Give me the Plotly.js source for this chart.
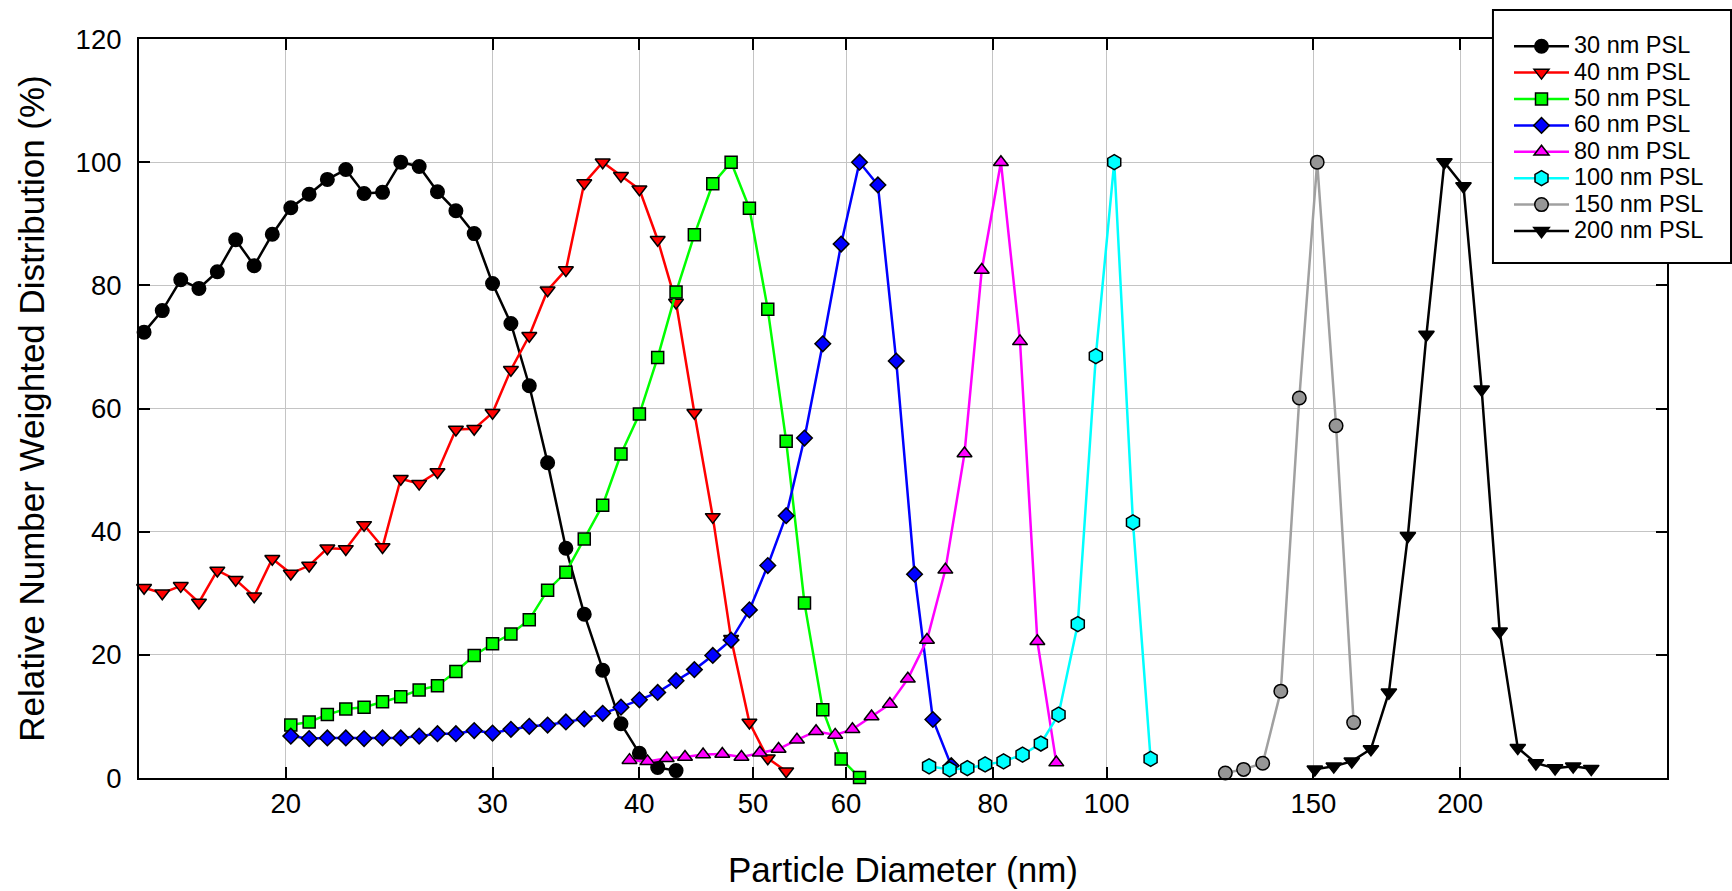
<!DOCTYPE html>
<html>
<head>
<meta charset="utf-8">
<script src="https://cdn.plot.ly/plotly-3.0.1.min.js"></script>
<style>
  html, body { margin: 0; padding: 0; background: #ffffff; }
  #chart { width: 1732px; height: 891px; }
</style>
</head>
<body>
<div id="chart"></div>
<script>
// ---- Data ----
var seriesNames = ["30 nm PSL", "40 nm PSL", "50 nm PSL", "60 nm PSL", "80 nm PSL", "100 nm PSL", "150 nm PSL", "200 nm PSL"];

var x30 = [15.15, 15.70, 16.28, 16.87, 17.49, 18.13, 18.80, 19.48, 20.20, 20.94, 21.70, 22.50, 23.32, 24.18, 25.06, 25.98, 26.93, 27.92, 28.94, 30.00, 31.10, 32.24, 33.42, 34.64, 35.91, 37.23, 38.59, 40.01, 41.47, 42.99];
var y30 = [72.4, 75.9, 80.9, 79.5, 82.2, 87.4, 83.2, 88.3, 92.6, 94.8, 97.2, 98.8, 94.9, 95.1, 100.0, 99.3, 95.2, 92.1, 88.4, 80.3, 73.8, 63.7, 51.2, 37.3, 26.6, 17.5, 8.8, 4.0, 1.7, 1.2];

var x40 = [15.15, 15.70, 16.28, 16.87, 17.49, 18.13, 18.80, 19.48, 20.20, 20.94, 21.70, 22.50, 23.32, 24.18, 25.06, 25.98, 26.93, 27.92, 28.94, 30.00, 31.10, 32.24, 33.42, 34.64, 35.91, 37.23, 38.59, 40.01, 41.47, 42.99, 44.56, 46.20, 47.89, 49.64, 51.46, 53.35];
var y40 = [30.9, 30.0, 31.2, 28.5, 33.7, 32.2, 29.5, 35.6, 33.2, 34.5, 37.3, 37.2, 41.1, 37.5, 48.6, 47.8, 49.7, 56.6, 56.7, 59.3, 66.3, 71.8, 79.2, 82.5, 96.6, 100.0, 97.8, 95.6, 87.4, 77.2, 59.3, 42.4, 22.6, 9.0, 3.2, 1.1];

var x50 = [20.20, 20.94, 21.70, 22.50, 23.32, 24.18, 25.06, 25.98, 26.93, 27.92, 28.94, 30.00, 31.10, 32.24, 33.42, 34.64, 35.91, 37.23, 38.59, 40.01, 41.47, 42.99, 44.56, 46.20, 47.89, 49.64, 51.46, 53.35, 55.30, 57.32, 59.42, 61.60];
var y50 = [8.6, 9.1, 10.3, 11.2, 11.5, 12.4, 13.2, 14.3, 15.0, 17.3, 19.9, 21.8, 23.4, 25.7, 30.5, 33.4, 38.8, 44.3, 52.6, 59.1, 68.3, 78.9, 88.2, 96.5, 100.0, 92.5, 76.1, 54.7, 28.4, 11.1, 3.1, 0.1];

var x60 = [20.20, 20.94, 21.70, 22.50, 23.32, 24.18, 25.06, 25.98, 26.93, 27.92, 28.94, 30.00, 31.10, 32.24, 33.42, 34.64, 35.91, 37.23, 38.59, 40.01, 41.47, 42.99, 44.56, 46.20, 47.89, 49.64, 51.46, 53.35, 55.30, 57.32, 59.42, 61.60, 63.86, 66.20, 68.62, 71.13, 73.74];
var y60 = [6.8, 6.4, 6.5, 6.5, 6.4, 6.5, 6.5, 6.8, 7.2, 7.2, 7.7, 7.3, 7.9, 8.4, 8.6, 9.1, 9.6, 10.5, 11.5, 12.7, 13.9, 15.8, 17.6, 19.9, 22.4, 27.3, 34.5, 42.6, 55.2, 70.5, 86.7, 100.0, 96.3, 67.7, 33.1, 9.5, 2.0];

var x80 = [39.24, 40.65, 42.21, 43.75, 45.33, 47.07, 48.87, 50.66, 52.56, 54.49, 56.57, 58.73, 60.75, 63.07, 65.38, 67.72, 70.31, 72.89, 75.68, 78.28, 81.28, 84.38, 87.30, 90.60];
var y80 = [2.9, 2.7, 3.2, 3.4, 3.8, 3.9, 3.4, 4.1, 4.7, 6.2, 7.6, 7.0, 7.9, 10.0, 12.0, 16.1, 22.4, 33.8, 52.7, 82.5, 100.0, 70.9, 22.2, 2.5];

var x100 = [70.6, 73.5, 76.1, 78.8, 81.7, 84.8, 87.9, 91.0, 94.5, 97.9, 101.5, 105.3, 109.0];
var y100 = [1.9, 1.4, 1.6, 2.2, 2.7, 3.8, 5.6, 10.3, 25.0, 68.5, 100.0, 41.5, 3.1];

var x150 = [126.2, 130.8, 135.8, 140.7, 145.9, 151.1, 156.8, 162.3];
var y150 = [0.8, 1.4, 2.4, 14.1, 61.7, 100.0, 57.2, 9.0];

var x200 = [150.4, 156.1, 161.7, 167.9, 173.9, 180.5, 187.2, 193.9, 201.3, 208.6, 216.1, 223.9, 232.0, 240.9, 249.6, 258.6];
var y200 = [1.4, 1.9, 2.7, 4.7, 13.9, 39.3, 72.0, 100.0, 96.1, 63.1, 23.8, 4.9, 2.4, 1.6, 1.9, 1.5];

var xTickVals = [20, 30, 40, 50, 60, 80, 100, 150, 200];
var xTickText = ["20", "30", "40", "50", "60", "80", "100", "150", "200"];
var yTickVals = [0, 20, 40, 60, 80, 100, 120];

// ---- Styles ----
var styles = [
  {line: "#000000", fill: "#000000", symbol: "circle", size: 13.5},
  {line: "#ff0000", fill: "#ff0000", symbol: "triangle-down", size: 13},
  {line: "#00ff00", fill: "#00ff00", symbol: "square", size: 12},
  {line: "#0000ff", fill: "#0000ff", symbol: "diamond", size: 12},
  {line: "#ff00ff", fill: "#ff00ff", symbol: "triangle-up", size: 13},
  {line: "#00ffff", fill: "#00ffff", symbol: "hexagon", size: 15},
  {line: "#a0a0a0", fill: "#969696", symbol: "circle", size: 13.5},
  {line: "#000000", fill: "#000000", symbol: "triangle-down", size: 13.5}
];
var xs = [x30, x40, x50, x60, x80, x100, x150, x200];
var ys = [y30, y40, y50, y60, y80, y100, y150, y200];

var traces = [];
for (var i = 0; i < xs.length; i++) {
  var s = styles[i];
  traces.push({
    type: "scatter",
    mode: "lines+markers",
    x: xs[i],
    y: ys[i],
    name: '<span style="font-size:23.5px">' + seriesNames[i] + '</span>',
    line: {color: s.line, width: 2.5},
    marker: {symbol: s.symbol, size: s.size, color: s.fill, line: {color: "#000000", width: 1.5}},
    cliponaxis: false
  });
}

var fontFamily = "Liberation Sans, Arial, Helvetica, sans-serif";

var layout = {
  width: 1732,
  height: 891,
  margin: {l: 139, r: 65, t: 39, b: 113, pad: 0},
  paper_bgcolor: "#ffffff",
  plot_bgcolor: "#ffffff",
  font: {family: fontFamily, color: "#000000"},
  showlegend: true,
  legend: {
    x: 0.8966, y: 1.0149, xanchor: "left", yanchor: "top",
    bgcolor: "rgba(0,0,0,0)", borderwidth: 0,
    font: {family: fontFamily, size: 18, color: "#000000"},
    itemwidth: 55
  },
  // legend frame (white box with black border, covers the right axis top)
  shapes: [{
    type: "rect", xref: "paper", yref: "paper", layer: "above",
    x0: 0.8861, x1: 1.0419, y0: 0.6969, y1: 1.0392,
    fillcolor: "#ffffff", line: {color: "#000000", width: 2}
  }],
  xaxis: {
    type: "log",
    range: [Math.log10(15), Math.log10(300)],
    tickvals: xTickVals,
    ticktext: xTickText,
    ticks: "inside",
    ticklen: 11,
    tickwidth: 2,
    tickcolor: "#000000",
    showline: true,
    linewidth: 2,
    linecolor: "#000000",
    mirror: "ticks",
    showgrid: true,
    gridcolor: "#c4c4c4",
    gridwidth: 1,
    zeroline: false,
    tickfont: {family: fontFamily, size: 27.5, color: "#000000"},
    ticklabelstandoff: 2.5,
    title: {text: "Particle Diameter (nm)", font: {family: fontFamily, size: 35, color: "#000000"}, standoff: 39.5},
    automargin: false
  },
  yaxis: {
    range: [0, 120],
    tickvals: yTickVals,
    ticks: "inside",
    ticklen: 11,
    tickwidth: 2,
    tickcolor: "#000000",
    showline: true,
    linewidth: 2,
    linecolor: "#000000",
    mirror: "ticks",
    showgrid: true,
    gridcolor: "#c4c4c4",
    gridwidth: 1,
    zeroline: false,
    tickfont: {family: fontFamily, size: 27.5, color: "#000000"},
    ticklabelstandoff: 10,
    title: {text: "Relative Number Weighted Distribution (%)", font: {family: fontFamily, size: 35, color: "#000000"}, standoff: 20},
    automargin: false
  }
};

Plotly.newPlot("chart", traces, layout, {staticPlot: true, displayModeBar: false});
</script>
</body>
</html>
